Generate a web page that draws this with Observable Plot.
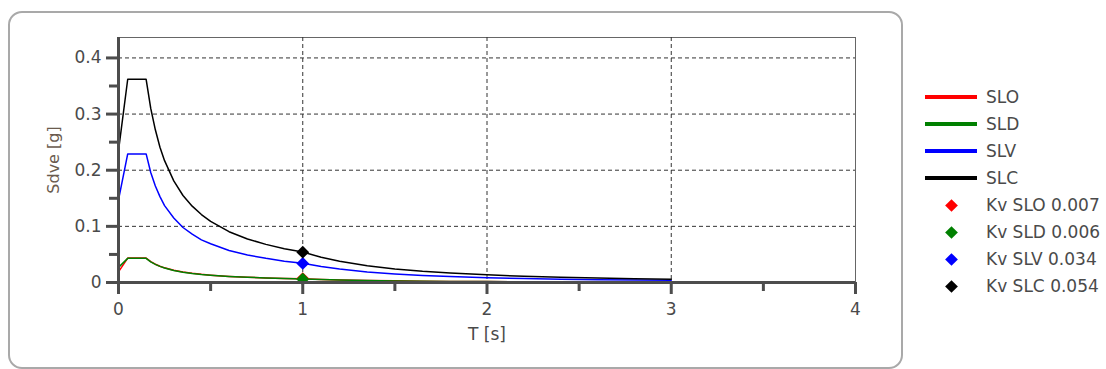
<!DOCTYPE html>
<html>
<head>
<meta charset="utf-8">
<script src="https://cdn.jsdelivr.net/npm/d3@7"></script>
<script src="https://cdn.jsdelivr.net/npm/@observablehq/plot@0.6"></script>
<style>
  body { margin: 0; background: white; font-family: "DejaVu Sans", sans-serif; }
  #wrap { position: relative; width: 1106px; height: 369px; overflow: hidden; }
  #border { position: absolute; left: 8px; top: 11px; width: 891px; height: 354px; border: 2px solid #a9a9a9; border-radius: 14px; pointer-events: none; }
  #legend { position: absolute; left: 0; top: 0; font-size: 17px; color: #4a4a4a; }
  .row { position: absolute; height: 20px; line-height: 20px; white-space: nowrap; }
  .sw { position: absolute; left: 925px; width: 52px; height: 4px; }
  .dm { position: absolute; width: 9px; height: 9px; transform: rotate(45deg); }
  .lb { position: absolute; left: 986px; }
</style>
</head>
<body>
<div id="wrap"><div id="chart"></div><div id="border"></div><div id="legend"></div></div>
<script>
// Period T [s]
const T = [0, 0.05, 0.15, 0.175, 0.2, 0.225, 0.25, 0.3, 0.35, 0.4, 0.45, 0.5, 0.6, 0.7, 0.8, 0.9, 1.0, 1.1, 1.2, 1.35, 1.5, 1.65, 1.8, 2.0, 2.2, 2.4, 2.6, 2.8, 3.0];
// Sdve [g] per limit state
const SLO = [0.019, 0.0435, 0.0435, 0.0373, 0.0326, 0.0290, 0.0261, 0.0218, 0.0186, 0.0163, 0.0145, 0.0131, 0.0109, 0.0093, 0.0082, 0.0073, 0.0065, 0.0054, 0.0045, 0.0036, 0.0029, 0.0024, 0.0020, 0.0016, 0.0013, 0.0011, 0.0010, 0.0008, 0.0007];
const SLD = [0.027, 0.043, 0.043, 0.0369, 0.0323, 0.0287, 0.0258, 0.0215, 0.0184, 0.0161, 0.0143, 0.0129, 0.0108, 0.0092, 0.0081, 0.0072, 0.0064, 0.0053, 0.0044, 0.0035, 0.0028, 0.0024, 0.0020, 0.0016, 0.0013, 0.0011, 0.0009, 0.0008, 0.0007];
const SLV = [0.147, 0.229, 0.229, 0.196, 0.172, 0.153, 0.137, 0.115, 0.098, 0.086, 0.076, 0.069, 0.057, 0.049, 0.043, 0.038, 0.0344, 0.0284, 0.0239, 0.0189, 0.0153, 0.0126, 0.0106, 0.0086, 0.0071, 0.0060, 0.0051, 0.0044, 0.0038];
const SLC = [0.235, 0.362, 0.362, 0.310, 0.272, 0.241, 0.217, 0.181, 0.155, 0.136, 0.121, 0.109, 0.0905, 0.0776, 0.0679, 0.0603, 0.0543, 0.0449, 0.0377, 0.0298, 0.0241, 0.0199, 0.0168, 0.0136, 0.0112, 0.0094, 0.0080, 0.0069, 0.0060];

const seriesNames = ["SLO", "SLD", "SLV", "SLC"];
const seriesColors = ["#ff0000", "#008000", "#0000ff", "#000000"];
const seriesValues = [SLO, SLD, SLV, SLC];

// Kv points at T = 1 s
const kvT = 1;
const kvValues = [0.007, 0.006, 0.034, 0.054];
const kvLabels = ["Kv SLO 0.007", "Kv SLD 0.006", "Kv SLV 0.034", "Kv SLC 0.054"];

const xMajor = [0, 1, 2, 3, 4];
const xMinor = [0.5, 1.5, 2.5, 3.5];
const yMajor = [0, 0.1, 0.2, 0.3, 0.4];
const yMinor = [0.05, 0.15, 0.25, 0.35];
const yTop = 0.4364;

const axisColor = "#4d4d4d";
const textColor = "#4a4a4a";

const lineMarks = seriesValues.map((vals, i) =>
  Plot.line(T.map((t, j) => ({T: t, v: vals[j]})), {x: "T", y: "v", stroke: seriesColors[i], strokeWidth: 1.5})
);
const kvData = kvValues.map((v, i) => ({T: kvT, v, c: seriesColors[i]}));

const chart = Plot.plot({
  width: 1106,
  height: 369,
  marginLeft: 118,
  marginRight: 251,
  marginTop: 37,
  marginBottom: 87,
  style: {background: "transparent", fontFamily: "DejaVu Sans, sans-serif"},
  x: {domain: [0, 4]},
  y: {domain: [0, yTop]},
  marks: [
    Plot.frame({stroke: "#666", strokeWidth: 1}),
    Plot.gridY(yMajor.filter(d => d > 0), {stroke: "#333", strokeOpacity: 1, strokeDasharray: "4,3"}),
    Plot.gridX(xMajor.filter(d => d > 0 && d < 4), {stroke: "#333", strokeOpacity: 1, strokeDasharray: "4,3"}),
    ...lineMarks,
    Plot.dot(kvData, {x: "T", y: "v", fill: "c", symbol: "diamond2", r: 5.8, stroke: null}),
    Plot.ruleX([0], {stroke: axisColor, strokeWidth: 3}),
    Plot.ruleY([0], {stroke: axisColor, strokeWidth: 3}),
    Plot.axisY({ticks: yMajor, tickSize: 12, tickPadding: 5, stroke: axisColor, strokeWidth: 3, fill: textColor, fontSize: 17, tickFormat: d => d === 0 ? "0" : String(d), label: null}),
    Plot.axisY({ticks: yMinor, tickSize: 9, stroke: axisColor, strokeWidth: 3, tickFormat: () => "", label: null}),
    Plot.axisX({ticks: xMajor, tickSize: 12, tickPadding: 8, stroke: axisColor, strokeWidth: 3, fill: textColor, fontSize: 17, tickFormat: d => String(d), label: null}),
    Plot.axisX({ticks: xMinor, tickSize: 9, stroke: axisColor, strokeWidth: 3, tickFormat: () => "", label: null}),
    Plot.text(["Sdve [g]"], {frameAnchor: "left", dx: -65, rotate: -90, textAnchor: "middle", lineAnchor: "middle", fontSize: 16, fill: "#6b5b4e"}),
    Plot.text(["T [s]"], {frameAnchor: "bottom", dy: 52, lineAnchor: "middle", fontSize: 17, fill: textColor})
  ]
});
document.getElementById("chart").appendChild(chart);

// Legend
const legend = document.getElementById("legend");
const rowY0 = 97, rowStep = 27;
seriesNames.forEach((name, i) => {
  const y = rowY0 + i * rowStep;
  const sw = document.createElement("div");
  sw.className = "sw"; sw.style.top = (y - 2) + "px"; sw.style.background = seriesColors[i];
  legend.appendChild(sw);
  const lb = document.createElement("div");
  lb.className = "row lb"; lb.style.top = (y - 10) + "px"; lb.textContent = name;
  legend.appendChild(lb);
});
kvLabels.forEach((name, i) => {
  const y = rowY0 + (i + 4) * rowStep;
  const dm = document.createElement("div");
  dm.className = "dm"; dm.style.left = (951 - 4.5) + "px"; dm.style.top = (y - 4.5) + "px"; dm.style.background = seriesColors[i];
  legend.appendChild(dm);
  const lb = document.createElement("div");
  lb.className = "row lb"; lb.style.top = (y - 10) + "px"; lb.textContent = name;
  legend.appendChild(lb);
});
</script>
</body>
</html>
